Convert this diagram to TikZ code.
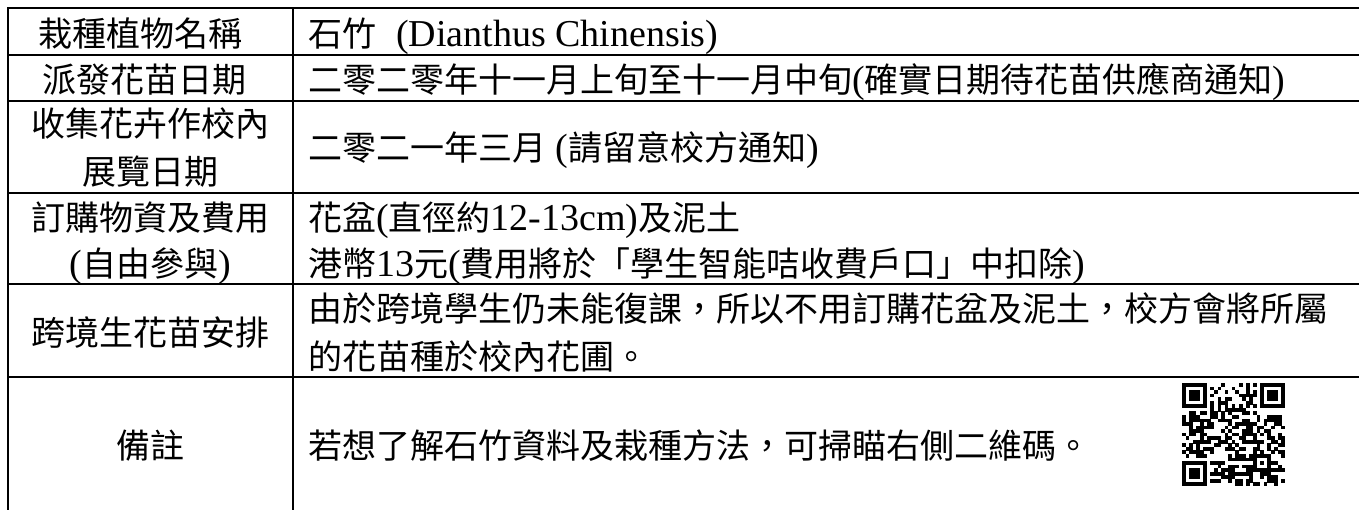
\documentclass[tikz,border=0pt]{standalone}
\usepackage{fontspec}
\setmainfont{Liberation Serif}
\newfontfamily\cjkf{Noto Sans CJK TC}
\newcommand\C[1]{{\cjkf\fontsize{34}{44}\selectfont #1}}
\XeTeXlinebreaklocale "zh"
\XeTeXlinebreakskip=0pt plus 6pt
\begin{document}
\begin{tikzpicture}[x=1pt,y=-1pt,
  rule/.style={line width=2.5pt,line cap=rect},
  txt/.style={inner sep=0pt,font=\fontsize{38}{44}\selectfont},
  rt/.style={txt,anchor=base west},
  lt/.style={txt,anchor=base},
  qrmod/.style={fill=black}]
\useasboundingbox (0,0) rectangle (1359,510);
\fill[white] (0,0) rectangle (1359,510);
% grid
\foreach \yy in {8,55,101,193,284,377}{
  \draw[rule] (8,\yy) -- (1362,\yy);
}
\draw[rule] (8,8) -- (8,512);
\draw[rule] (293,8) -- (293,512);
% left column
\node[lt] (l1) at (150,47) {\makebox[224pt][s]{\C{栽種植物名稱}}};
\node[lt] (l2) at (150,93) {\makebox[216pt][s]{\C{派發花苗日期}}};
\node[lt] (l3a) at (150,137) {\C{收集花卉作校內}};
\node[lt] (l3b) at (150,185) {\C{展覽日期}};
\node[lt] (l4a) at (150,231) {\C{訂購物資及費用}};
\node[lt] (l4b) at (150,277) {(\C{自由參與})};
\node[lt] (l5) at (150,345) {\C{跨境生花苗安排}};
\node[lt] (l6) at (150,458) {\C{備註}};
% right column
\node[rt] (r1) at (308,47) {\C{石竹}\hspace{20pt}(Dianthus Chinensis)};
\node[rt] (r2) at (308,93) {\makebox[990pt][s]{\C{二零二零年十一月上旬至十一月中旬}(\C{確實日期待花苗供應商通知})}};
\node[rt] (r3) at (308,161) {\C{二零二一年三月} (\C{請留意校方通知})};
\node[rt] (r4a) at (308,231) {\C{花盆}(\C{直徑約}12-13cm)\C{及泥土}};
\node[rt] (r4b) at (308,277) {\C{港幣}13\C{元}(\C{費用將於「學生智能咭收費戶口」中扣除})};
\node[rt] (r5a) at (308,322) {\makebox[1040pt][s]{\C{由於跨境學生仍未能復課，所以不用訂購花盆及泥土，校方會將所屬}}};
\node[rt] (r5b) at (308,369) {\C{的花苗種於校內花圃。}};
\node[rt] (r6) at (308,458) {\C{若想了解石竹資料及栽種方法，可掃瞄右側二維碼。}};
% QR code
\def\qx{1182}\def\qy{383}\def\qm{3.55}
\pgfmathsetseed{4242}
\foreach \r in {0,...,28}{
  \foreach \c in {0,...,28}{
    \pgfmathtruncatemacro\ff{(\r<8)*(\c<8)+(\r<8)*(\c>20)+(\r>20)*(\c<8)}
    \pgfmathtruncatemacro\aa{(\r>19)*(\r<25)*(\c>19)*(\c<25)}
    \pgfmathtruncatemacro\tt{(\r==6)+(\c==6)}
    \ifnum\ff>0 \else
      \ifnum\aa>0 \else
        \ifnum\tt>0
          \pgfmathtruncatemacro\ee{mod(\r+\c,2)}
          \ifnum\ee=0 \fill[qrmod] (\qx+\c*\qm,\qy+\r*\qm) rectangle ++(\qm+0.2,\qm+0.2);\fi
        \else
          \pgfmathrandominteger{\bb}{0}{1}
          \ifnum\bb=1 \fill[qrmod] (\qx+\c*\qm,\qy+\r*\qm) rectangle ++(\qm+0.2,\qm+0.2);\fi
        \fi
      \fi
    \fi
  }
}
\foreach \fx/\fy in {0/0,22/0,0/22}{
  \fill[qrmod] (\qx+\fx*\qm,\qy+\fy*\qm) rectangle ++(7*\qm,7*\qm);
  \fill[white] (\qx+\fx*\qm+\qm,\qy+\fy*\qm+\qm) rectangle ++(5*\qm,5*\qm);
  \fill[qrmod] (\qx+\fx*\qm+2*\qm,\qy+\fy*\qm+2*\qm) rectangle ++(3*\qm,3*\qm);
}
\fill[qrmod] (\qx+20*\qm,\qy+20*\qm) rectangle ++(5*\qm,5*\qm);
\fill[white] (\qx+21*\qm,\qy+21*\qm) rectangle ++(3*\qm,3*\qm);
\fill[qrmod] (\qx+22*\qm,\qy+22*\qm) rectangle ++(\qm,\qm);
\end{tikzpicture}
\end{document}
